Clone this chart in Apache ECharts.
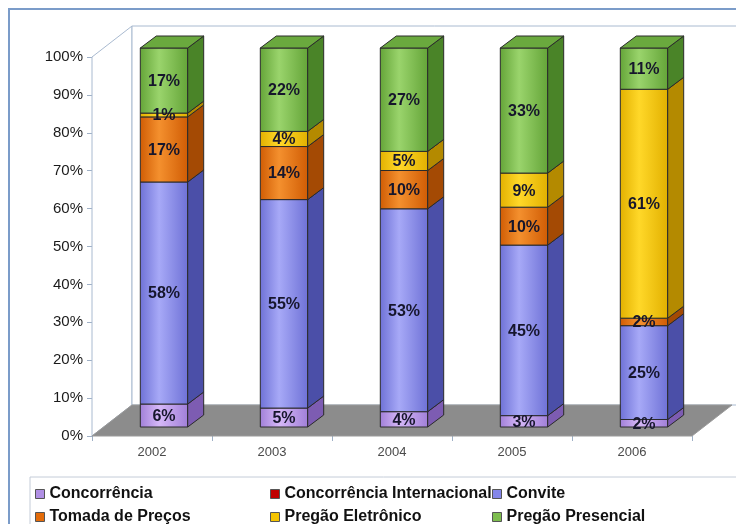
<!DOCTYPE html>
<html>
<head>
<meta charset="utf-8">
<script src="https://cdn.jsdelivr.net/npm/echarts@6/dist/echarts.min.js"></script>
<style>html,body{margin:0;padding:0;background:#fff}#c{width:736px;height:524px}</style>
</head>
<body>
<div id="c"></div>
<script>
var years = ['2002', '2003', '2004', '2005', '2006'];
var yTicks = [0, 10, 20, 30, 40, 50, 60, 70, 80, 90, 100];
var concorrencia = [6, 5, 4, 3, 2];
var concorrenciaInternacional = [0, 0, 0, 0, 0];
var convite = [58, 55, 53, 45, 25];
var tomadaDePrecos = [17, 14, 10, 10, 2];
var pregaoEletronico = [1, 4, 5, 9, 61];
var pregaoPresencial = [17, 22, 27, 33, 11];

var seriesNames = ['Concorrência', 'Concorrência Internacional', 'Convite', 'Tomada de Preços', 'Pregão Eletrônico', 'Pregão Presencial'];
var seriesValues = [concorrencia, concorrenciaInternacional, convite, tomadaDePrecos, pregaoEletronico, pregaoPresencial];
var palette = [
  {base: '#b08fe4', edge: '#a07fd8', light: '#d6b8f8', side: '#7d5cb2', top: '#b89ae6'},
  {base: '#c00000', edge: '#a00000', light: '#e02020', side: '#800000', top: '#b00000'},
  {base: '#8486ea', edge: '#6e71d6', light: '#a7a9f7', side: '#4b4fa8', top: '#7f82e0'},
  {base: '#e46c0a', edge: '#d05c04', light: '#f4902e', side: '#a44a04', top: '#e27018'},
  {base: '#f5c400', edge: '#e2b000', light: '#ffd829', side: '#b48a00', top: '#efc000'},
  {base: '#7dbd4e', edge: '#64a438', light: '#9ad46c', side: '#4a8428', top: '#6aa93e'}
];
var DX = 16, DY = -12;

// cumulative (100% stacked) extents
var totals = years.map(function (y, i) {
  return seriesValues.reduce(function (s, arr) { return s + arr[i]; }, 0);
});
var topIndex = years.map(function (y, i) {
  var t = -1;
  seriesValues.forEach(function (arr, k) { if (arr[i] > 0) t = k; });
  return t;
});
var cum = years.map(function () { return 0; });
var stackData = seriesValues.map(function (arr, k) {
  return arr.map(function (v, i) {
    var s = cum[i] / totals[i] * 100;
    cum[i] += v;
    var e = cum[i] / totals[i] * 100;
    return [i, s, e, v, topIndex[i] === k ? 1 : 0];
  });
});

function renderBar(k) {
  var c = palette[k];
  return function (params, api) {
    var v = api.value(3);
    if (!(v > 0)) return;
    var i = api.value(0);
    var p0 = api.coord([i, api.value(1)]);
    var p1 = api.coord([i, api.value(2)]);
    var bw = api.size([1, 0])[0] * 0.395;
    var x0 = p0[0] - bw / 2, x1 = p0[0] + bw / 2;
    var yb = p0[1], yt = p1[1];
    var children = [
      {type: 'rect', shape: {x: x0, y: yt, width: bw, height: yb - yt},
        style: {fill: new echarts.graphic.LinearGradient(0, 0, 1, 0, [
          {offset: 0, color: c.edge}, {offset: 0.4, color: c.light}, {offset: 1, color: c.edge}]),
          stroke: '#2a2a2a', lineWidth: 1}},
      {type: 'polygon', shape: {points: [[x1, yb], [x1, yt], [x1 + DX, yt + DY], [x1 + DX, yb + DY]]},
        style: {fill: c.side, stroke: '#2a2a2a', lineWidth: 1}}
    ];
    if (api.value(4) === 1) {
      children.push({type: 'polygon', shape: {points: [[x0, yt], [x1, yt], [x1 + DX, yt + DY], [x0 + DX, yt + DY]]},
        style: {fill: c.top, stroke: '#2a2a2a', lineWidth: 1}});
    }
    children.push({type: 'text', z2: 100, style: {text: v + '%', x: (x0 + x1) / 2, y: (yb + yt) / 2 + 1,
      align: 'center', verticalAlign: 'middle', font: 'bold 16px "Liberation Sans", Arial, sans-serif', fill: '#16162c'}});
    return {type: 'group', children: children};
  };
}

var series = [{
  type: 'custom', name: 'walls', coordinateSystem: 'cartesian2d', xAxisIndex: 0, yAxisIndex: 0, z: 1, silent: true,
  data: [[0, 0]],
  renderItem: function (params, api) {
    var cs = params.coordSys;
    var gx = cs.x, gy = cs.y, gw = cs.width, gh = cs.height;
    var bx = 40, by = -31;
    var line = '#a9bad0';
    return {type: 'group', children: [
      {type: 'polygon', shape: {points: [[gx, gy], [gx + bx, gy + by], [gx + bx, gy + gh + by], [gx, gy + gh]]},
        style: {fill: '#ffffff', stroke: line, lineWidth: 1}},
      {type: 'rect', shape: {x: gx + bx, y: gy + by, width: gw + 10, height: gh},
        style: {fill: '#ffffff', stroke: line, lineWidth: 1}},
      {type: 'polygon', shape: {points: [[gx, gy + gh], [gx + bx, gy + gh + by], [gx + gw + bx, gy + gh + by], [gx + gw, gy + gh]]},
        style: {fill: '#8c8c8c', stroke: '#9a9a9a', lineWidth: 1}}
    ]};
  }
}];
seriesNames.forEach(function (n, k) {
  series.push({type: 'custom', name: n, coordinateSystem: 'cartesian2d', xAxisIndex: 1, yAxisIndex: 1, z: 2,
    itemStyle: {color: palette[k].base}, data: stackData[k], renderItem: renderBar(k),
    encode: {x: 0, y: [1, 2]}});
});

var legendPos = [[30, 481], [265, 481], [487, 481], [30, 504], [265, 504], [487, 504]];
var legends = seriesNames.map(function (n, k) {
  return {data: [n], left: legendPos[k][0], top: legendPos[k][1], itemWidth: 9, itemHeight: 9, itemGap: 0,
    icon: 'rect', selectedMode: false,
    itemStyle: {borderColor: '#555', borderWidth: 1},
    textStyle: {fontFamily: '"Liberation Sans", Arial, sans-serif', fontWeight: 'bold', fontSize: 16, color: '#111'}};
});

var chart = echarts.init(document.getElementById('c'), null, {renderer: 'canvas'});
chart.setOption({
  backgroundColor: '#ffffff',
  animation: false,
  legend: legends,
  graphic: [
    {type: 'line', shape: {x1: 8, y1: 9, x2: 736, y2: 9}, style: {stroke: '#7b9cc9', lineWidth: 2}, z: 10},
    {type: 'line', shape: {x1: 9, y1: 9, x2: 9, y2: 524}, style: {stroke: '#7b9cc9', lineWidth: 2}, z: 10},
    {type: 'rect', shape: {x: 30, y: 477, width: 720, height: 60}, style: {fill: 'none', stroke: '#c4ccd8', lineWidth: 1}, z: 0}
  ],
  grid: [
    {left: 92, top: 57, width: 600, height: 379},
    {left: 104, top: 48, width: 600, height: 379}
  ],
  xAxis: [
    {type: 'category', gridIndex: 0, data: years,
      axisLine: {show: false},
      axisTick: {show: true, length: 5, lineStyle: {color: '#9fb0c6'}},
      axisLabel: {fontFamily: '"Liberation Sans", Arial, sans-serif', fontSize: 13, color: '#4a4a4a', margin: 10},
      splitLine: {show: false}},
    {type: 'category', gridIndex: 1, data: years, show: false}
  ],
  yAxis: [
    {type: 'value', gridIndex: 0, min: yTicks[0], max: yTicks[yTicks.length - 1], interval: 10,
      axisLine: {show: true, lineStyle: {color: '#a9bad0'}},
      axisTick: {show: true, length: 5, lineStyle: {color: '#9fb0c6'}},
      axisLabel: {formatter: '{value}%', fontFamily: '"Liberation Sans", Arial, sans-serif', fontSize: 15, color: '#1a1a1a', margin: 9},
      splitLine: {show: false}},
    {type: 'value', gridIndex: 1, min: 0, max: 100, show: false, splitLine: {show: false}}
  ],
  series: series
});
</script>
</body>
</html>
